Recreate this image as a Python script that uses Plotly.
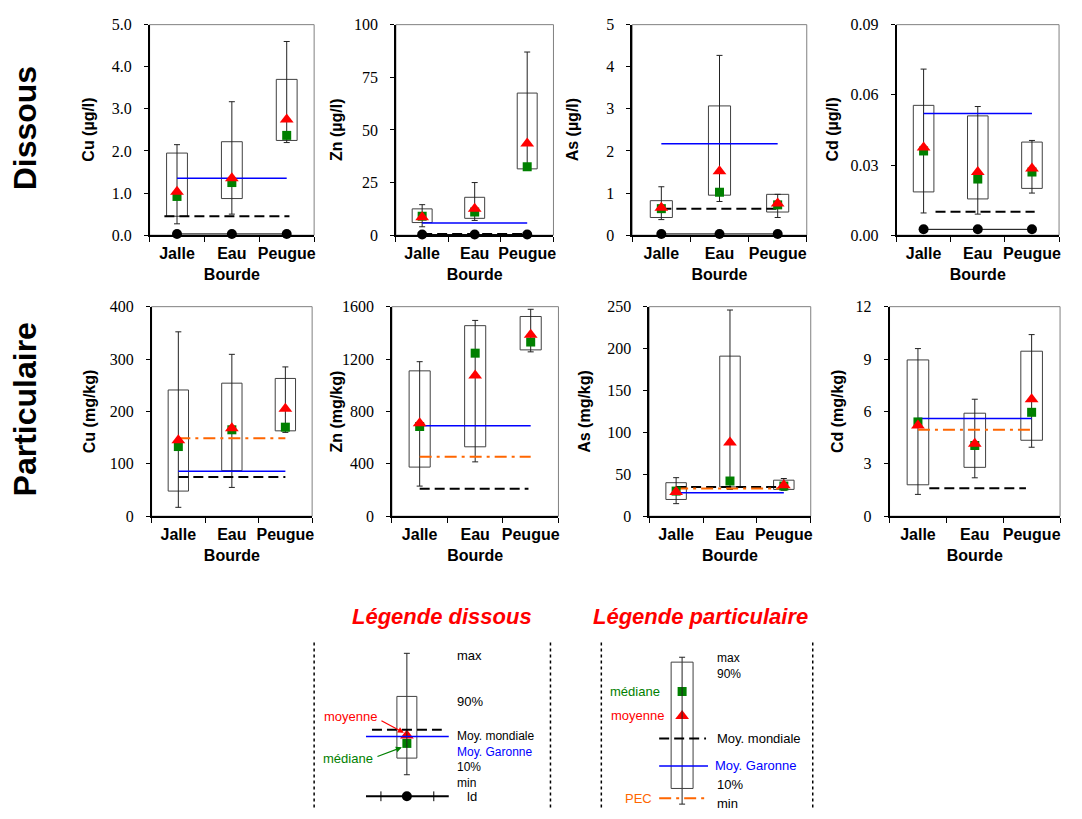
import plotly.graph_objects as go

W, H = 1082, 819

categories = ["Jalle", "Eau<br>Bourde", "Peugue"]

# ---------------- Dissous ----------------
cu_d_min = [0.27, 0.50, 2.20]
cu_d_p10 = [0.45, 0.87, 2.25]
cu_d_med = [0.92, 1.25, 2.37]
cu_d_mean = [1.03, 1.35, 2.75]
cu_d_p90 = [1.95, 2.22, 3.70]
cu_d_max = [2.15, 3.17, 4.60]
cu_d_garonne = 1.35
cu_d_monde = 0.45
cu_d_ld = 0.03

zn_d_min = [4.0, 7.0, 31.5]
zn_d_p10 = [6.0, 8.0, 31.5]
zn_d_med = [9.0, 11.0, 32.5]
zn_d_mean = [8.5, 12.5, 43.5]
zn_d_p90 = [12.5, 18.0, 67.5]
zn_d_max = [14.5, 25.0, 87.0]
zn_d_garonne = 5.8
zn_d_monde = 0.6
zn_d_ld = 0.3

as_d_min = [0.37, 0.80, 0.42]
as_d_p10 = [0.42, 0.95, 0.55]
as_d_med = [0.63, 1.02, 0.72]
as_d_mean = [0.65, 1.52, 0.75]
as_d_p90 = [0.82, 3.07, 0.97]
as_d_max = [1.15, 4.27, 0.97]
as_d_garonne = 2.17
as_d_monde = 0.63
as_d_ld = 0.03

cd_d_min = [0.0095, 0.0090, 0.0180]
cd_d_p10 = [0.0185, 0.0155, 0.0200]
cd_d_med = [0.0360, 0.0240, 0.0270]
cd_d_mean = [0.0375, 0.0270, 0.0285]
cd_d_p90 = [0.0555, 0.0510, 0.0398]
cd_d_max = [0.0710, 0.0550, 0.0405]
cd_d_garonne = 0.052
cd_d_monde = 0.010
cd_d_ld = 0.0025

# ---------------- Particulaire ----------------
cu_p_min = [17, 55, 160]
cu_p_p10 = [48, 87, 163]
cu_p_med = [133, 165, 170]
cu_p_mean = [145, 168, 205]
cu_p_p90 = [241, 254, 263]
cu_p_max = [352, 309, 285]
cu_p_garonne = 86
cu_p_monde = 75
cu_p_pec = 149

zn_p_min = [230, 415, 1255]
zn_p_p10 = [375, 530, 1270]
zn_p_med = [685, 1245, 1330]
zn_p_mean = [710, 1075, 1385]
zn_p_p90 = [1110, 1455, 1525]
zn_p_max = [1180, 1495, 1580]
zn_p_garonne = 690
zn_p_monde = 210
zn_p_pec = 455

as_p_min = [15, 32, 31]
as_p_p10 = [20, 35, 32]
as_p_med = [30, 42, 36]
as_p_mean = [29, 88, 37]
as_p_p90 = [40, 191, 43]
as_p_max = [46, 246, 45]
as_p_garonne = 28
as_p_monde = 35
as_p_pec = 33

cd_p_min = [1.25, 2.20, 3.95]
cd_p_p10 = [1.80, 2.80, 4.35]
cd_p_med = [5.40, 4.05, 5.95]
cd_p_mean = [5.20, 4.15, 6.70]
cd_p_p90 = [8.95, 5.90, 9.45]
cd_p_max = [9.60, 6.70, 10.40]
cd_p_garonne = 5.6
cd_p_monde = 1.6
cd_p_pec = 4.95

# y tick labels
cu_d_ticks = ["0.0", "1.0", "2.0", "3.0", "4.0", "5.0"]
zn_d_ticks = ["0", "25", "50", "75", "100"]
as_d_ticks = ["0", "1", "2", "3", "4", "5"]
cd_d_ticks = ["0.00", "0.03", "0.06", "0.09"]
cu_p_ticks = ["0", "100", "200", "300", "400"]
zn_p_ticks = ["0", "400", "800", "1200", "1600"]
as_p_ticks = ["0", "50", "100", "150", "200", "250"]
cd_p_ticks = ["0", "3", "6", "9", "12"]

RED = "#ff0000"
GREEN = "#008000"
BLUE = "#0000ff"
ORANGE = "#ff6600"
SANS = "Liberation Sans"
SERIF = "Times New Roman"

panels = [
    dict(ytitle="Cu (µg/l)", ticks=cu_d_ticks, mn=cu_d_min, p10=cu_d_p10, med=cu_d_med, mean=cu_d_mean,
         p90=cu_d_p90, mx=cu_d_max, gar=cu_d_garonne, monde=cu_d_monde, ld=cu_d_ld, pec=None,
         px=(150, 315), py=(17, 232), tx=89, monde_span=(0.77, 3.05)),
    dict(ytitle="Zn (µg/l)", ticks=zn_d_ticks, mn=zn_d_min, p10=zn_d_p10, med=zn_d_med, mean=zn_d_mean,
         p90=zn_d_p90, mx=zn_d_max, gar=zn_d_garonne, monde=zn_d_monde, ld=zn_d_ld, pec=None,
         px=(397, 555), py=(17, 232), tx=338, monde_span=(1, 3)),
    dict(ytitle="As (µg/l)", ticks=as_d_ticks, mn=as_d_min, p10=as_d_p10, med=as_d_med, mean=as_d_mean,
         p90=as_d_p90, mx=as_d_max, gar=as_d_garonne, monde=as_d_monde, ld=as_d_ld, pec=None,
         px=(634, 809), py=(17, 232), tx=575, monde_span=(1, 3)),
    dict(ytitle="Cd (µg/l)", ticks=cd_d_ticks, mn=cd_d_min, p10=cd_d_p10, med=cd_d_med, mean=cd_d_mean,
         p90=cd_d_p90, mx=cd_d_max, gar=cd_d_garonne, monde=cd_d_monde, ld=cd_d_ld, pec=None,
         px=(899, 1062), py=(17, 232), tx=835, monde_span=(1.22, 3.05)),
    dict(ytitle="Cu (mg/kg)", ticks=cu_p_ticks, mn=cu_p_min, p10=cu_p_p10, med=cu_p_med, mean=cu_p_mean,
         p90=cu_p_p90, mx=cu_p_max, gar=cu_p_garonne, monde=cu_p_monde, ld=None, pec=cu_p_pec,
         px=(152, 313), py=(305, 519), tx=90, monde_span=(1, 3)),
    dict(ytitle="Zn (mg/kg)", ticks=zn_p_ticks, mn=zn_p_min, p10=zn_p_p10, med=zn_p_med, mean=zn_p_mean,
         p90=zn_p_p90, mx=zn_p_max, gar=zn_p_garonne, monde=zn_p_monde, ld=None, pec=zn_p_pec,
         px=(393, 560), py=(305, 519), tx=337, monde_span=(1, 2.96)),
    dict(ytitle="As (mg/kg)", ticks=as_p_ticks, mn=as_p_min, p10=as_p_p10, med=as_p_med, mean=as_p_mean,
         p90=as_p_p90, mx=as_p_max, gar=as_p_garonne, monde=as_p_monde, ld=None, pec=as_p_pec,
         px=(651, 813), py=(305, 519), tx=586, monde_span=(1, 3)),
    dict(ytitle="Cd (mg/kg)", ticks=cd_p_ticks, mn=cd_p_min, p10=cd_p_p10, med=cd_p_med, mean=cd_p_mean,
         p90=cd_p_p90, mx=cd_p_max, gar=cd_p_garonne, monde=cd_p_monde, ld=None, pec=cd_p_pec,
         px=(892, 1063), py=(305, 519), tx=840, monde_span=(1.2, 2.9)),
]

fig = go.Figure()
layout = dict(width=W, height=H, margin=dict(l=0, r=0, t=0, b=0),
              paper_bgcolor="white", plot_bgcolor="rgba(0,0,0,0)", showlegend=False)
shapes = []
annotations = []

xs = [i + 1 for i in range(len(categories))]

for i, p in enumerate(panels, start=1):
    sfx = "" if i == 1 else str(i)
    xa, ya = "x" + sfx, "y" + sfx
    common = dict(xaxis=xa, yaxis=ya, showlegend=False, hoverinfo="skip")
    # box (10% - 90%)
    fig.add_trace(go.Bar(x=xs, y=[b - a for a, b in zip(p["p10"], p["p90"])], base=p["p10"], width=0.38,
                         marker=dict(color="rgba(0,0,0,0)", line=dict(color="#404040", width=1)), **common))
    # whiskers (min - max)
    fig.add_trace(go.Scatter(x=xs, y=p["mn"], mode="markers", marker=dict(color="rgba(0,0,0,0)", size=1),
                             error_y=dict(type="data", symmetric=False,
                                          array=[b - a for a, b in zip(p["mn"], p["mx"])],
                                          arrayminus=[0] * len(xs), width=3, thickness=1, color="#222222"),
                             **common))
    # world average (dashed black)
    s0, s1 = p["monde_span"]
    fig.add_trace(go.Scatter(x=[s0, s1], y=[p["monde"], p["monde"]], mode="lines",
                             line=dict(color="black", width=2, dash="10px,5px"), **common))
    # PEC
    if p["pec"] is not None:
        fig.add_trace(go.Scatter(x=[xs[0], xs[-1]], y=[p["pec"], p["pec"]], mode="lines",
                                 line=dict(color=ORANGE, width=2, dash="12px,5px,3px,5px"), **common))
    # Garonne
    fig.add_trace(go.Scatter(x=[xs[0], xs[-1]], y=[p["gar"], p["gar"]], mode="lines",
                             line=dict(color=BLUE, width=1.5), **common))
    # detection limit
    if p["ld"] is not None:
        fig.add_trace(go.Scatter(x=xs, y=[p["ld"]] * len(xs), mode="lines+markers", cliponaxis=False,
                                 line=dict(color="black", width=1),
                                 marker=dict(symbol="circle", size=10, color="black"), **common))
    # median & mean
    fig.add_trace(go.Scatter(x=xs, y=p["med"], mode="markers", cliponaxis=False,
                             marker=dict(symbol="square", size=9, color=GREEN), **common))
    fig.add_trace(go.Scatter(x=xs, y=p["mean"], mode="markers", cliponaxis=False,
                             marker=dict(symbol="triangle-up", size=12, color=RED), **common))

    ymax = float(p["ticks"][-1])
    tickvals = [float(t) for t in p["ticks"]]
    x0, x1 = p["px"]
    y0, y1 = p["py"]
    layout["xaxis" + sfx] = dict(
        domain=[x0 / W, x1 / W], range=[0.5, len(xs) + 0.5], anchor=ya,
        tickmode="array", tickvals=xs, ticktext=categories, ticks="", tickangle=0,
        showline=True, linecolor="black", linewidth=1.5, showgrid=False, zeroline=False,
        tickfont=dict(family=SANS, size=16, color="black", weight="bold"),
        minor=dict(tickmode="array", tickvals=[0.5 + k for k in range(len(xs) + 1)], ticks="outside",
                   ticklen=5, tickcolor="black", tickwidth=1, showgrid=False),
        ticklabelstandoff=3, fixedrange=True)
    layout["yaxis" + sfx] = dict(
        domain=[1 - y1 / H, 1 - y0 / H], range=[0, ymax], anchor=xa,
        tickmode="array", tickvals=tickvals, ticktext=p["ticks"], ticks="outside", ticklen=4,
        tickcolor="black", showline=True, linecolor="black", linewidth=1.5, showgrid=False,
        zeroline=False, tickfont=dict(family=SERIF, size=16, color="black"),
        ticklabelstandoff=9, fixedrange=True)
    shapes.append(dict(type="rect", xref=xa + " domain", yref=ya + " domain", x0=0, x1=1, y0=0, y1=1,
                       line=dict(color="#808080", width=1), layer="below"))
    annotations.append(dict(text="<b>%s</b>" % p["ytitle"], x=p["tx"] / W, y=1 - (y0 + y1) / 2 / H,
                            xref="paper", yref="paper", xanchor="center", yanchor="middle",
                            showarrow=False, textangle=-90,
                            font=dict(family=SANS, size=16, color="black")))

# Row labels
annotations.append(dict(text="<b>Dissous</b>", x=26 / W, y=1 - 123 / H, xref="paper", yref="paper",
                        xanchor="center", yanchor="middle",
                        showarrow=False, textangle=-90, font=dict(family=SANS, size=32, color="black")))
annotations.append(dict(text="<b>Particulaire</b>", x=26 / W, y=1 - 410 / H, xref="paper", yref="paper",
                        xanchor="center", yanchor="middle",
                        showarrow=False, textangle=-90, font=dict(family=SANS, size=32, color="black")))

# ---------------- Legend drawings (pixel coordinates on a hidden axis) ----------------
LX0, LX1, LY0, LY1 = 290, 840, 595, 819
layout["xaxis9"] = dict(domain=[LX0 / W, LX1 / W], range=[LX0, LX1], visible=False, anchor="y9", fixedrange=True)
layout["yaxis9"] = dict(domain=[1 - LY1 / H, 1 - LY0 / H], range=[LY1, LY0], visible=False, anchor="x9",
                        fixedrange=True)
L = dict(xref="x9", yref="y9")


def seg(x0, y0, x1, y1, color="black", width=1, dash="solid"):
    shapes.append(dict(type="line", x0=x0, y0=y0, x1=x1, y1=y1, line=dict(color=color, width=width, dash=dash), **L))


def rect(x0, y0, x1, y1):
    shapes.append(dict(type="rect", x0=x0, y0=y0, x1=x1, y1=y1, line=dict(color="#404040", width=1), **L))


def txt(s, x, y, color="black", anchor="left", size=13):
    annotations.append(dict(text=s, x=x, y=y, xanchor=anchor, yanchor="middle", showarrow=False,
                            borderpad=0, align="left",
                            font=dict(family=SANS, size=size, color=color), **L))


def arrow(x, y, ax, ay, color):
    annotations.append(dict(text="", x=x, y=y, ax=ax, ay=ay, axref="x9", ayref="y9", showarrow=True,
                            arrowhead=2, arrowsize=1, arrowwidth=1.2, arrowcolor=color, **L))


# titles
annotations.append(dict(text="<b><i>Légende dissous</i></b>", x=443, y=621, xanchor="center", yanchor="middle",
                        showarrow=False, font=dict(family=SANS, size=22, color=RED), **L))
annotations.append(dict(text="<b><i>Légende particulaire</i></b>", x=702, y=621, xanchor="center",
                        yanchor="middle", showarrow=False, font=dict(family=SANS, size=22, color=RED), **L))

# dotted separators
for xv in (315, 552, 603, 815):
    seg(xv, 648, xv, 819, width=1.5, dash="dot")

# dissous legend
seg(408, 659, 408, 783, color="#222222")
seg(405, 659, 411, 659, color="#222222")
seg(405, 783, 411, 783, color="#222222")
rect(398, 703, 418, 766)
seg(373, 737, 443, 737, width=2, dash="10px,5px")
seg(367, 744, 450, 744, color=BLUE, width=1.5)
seg(367, 805, 450, 805, width=2)
seg(382, 800, 382, 810, width=1)
seg(435, 800, 435, 810, width=1)
txt("max", 457, 661)
txt("90%", 457, 708)
txt("Moy. mondiale<br><span style='color:#0000ff'>Moy. Garonne</span><br>10%<br>min", 457, 767, size=12)
txt("ld", 467, 805)
txt("moyenne", 379, 724, color=RED, anchor="right")
txt("médiane", 375, 766, color=GREEN, anchor="right")
arrow(405, 740, 381, 727, RED)
arrow(403, 755, 377, 765, GREEN)

# particulaire legend
seg(684, 663, 684, 813, color="#222222")
seg(681, 663, 687, 663, color="#222222")
seg(681, 813, 687, 813, color="#222222")
rect(673, 668, 695, 797)
seg(661, 746, 708, 746, width=2, dash="10px,5px")
seg(661, 774, 710, 774, color=BLUE, width=1.5)
seg(661, 807, 710, 807, color=ORANGE, width=2, dash="12px,5px,3px,5px")
txt("max<br>90%", 718, 672, size=12)
txt("Moy. mondiale", 718, 746)
txt("Moy. Garonne", 716, 774, color=BLUE)
txt("10%", 718, 793)
txt("min", 718, 812)
txt("médiane", 663, 698, color=GREEN, anchor="right")
txt("moyenne", 667, 723, color=RED, anchor="right")
txt("PEC", 655, 807, color=ORANGE, anchor="right")

leg_common = dict(xaxis="x9", yaxis="y9", showlegend=False, hoverinfo="skip", cliponaxis=False, mode="markers")
fig.add_trace(go.Scatter(x=[408, 684], y=[751, 698], marker=dict(symbol="square", size=9, color=GREEN), **leg_common))
fig.add_trace(go.Scatter(x=[408, 684], y=[743, 723], marker=dict(symbol="triangle-up", size=12, color=RED), **leg_common))
fig.add_trace(go.Scatter(x=[408], y=[805], marker=dict(symbol="circle", size=10, color="black"), **leg_common))

layout["shapes"] = shapes
layout["annotations"] = annotations
fig.update_layout(**layout)

fig.write_html("out.html", config={"displayModeBar": False},
               post_script="document.body.style.margin='0';")
